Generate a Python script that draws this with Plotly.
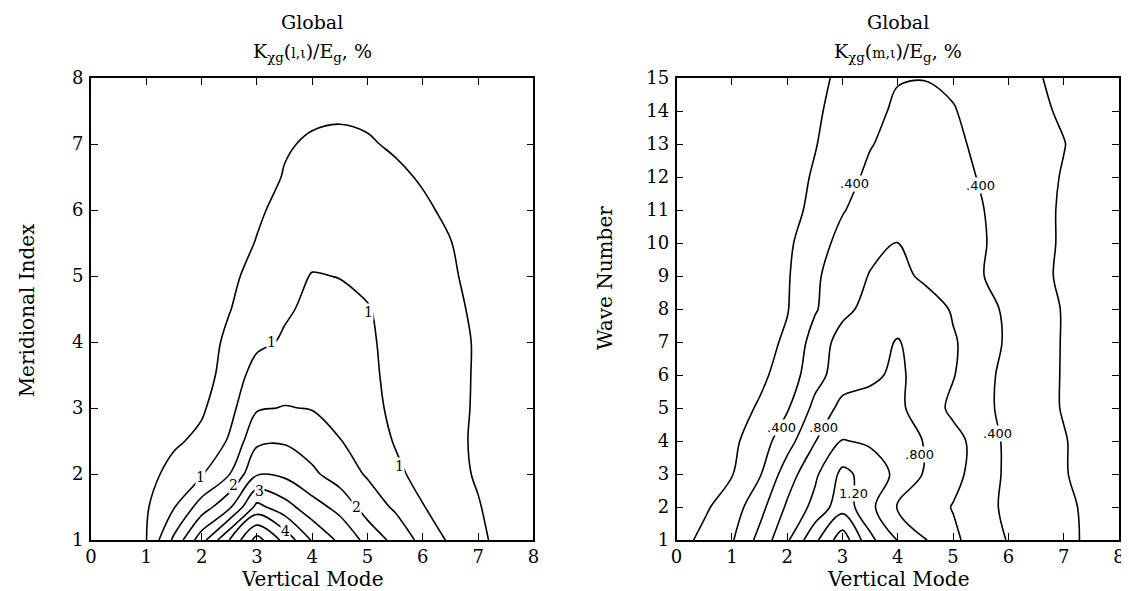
import plotly.graph_objects as go

# ---------------- data ----------------
vertical_mode = [0, 0.5, 1, 1.5, 2, 2.5, 3, 3.5, 4, 4.5, 5, 5.5, 6, 6.5, 7, 7.5, 8]
meridional_index = [1, 1.5, 2, 2.5, 3, 3.5, 4, 4.5, 5, 5.5, 6, 6.5, 7, 7.5, 8]
wave_number = list(range(1, 16))

# K(l,i)/E, %  rows = meridional index, cols = vertical mode
k_meridional = [
    [0.10, 0.20, 0.49, 1.60, 2.80, 4.00, 5.20, 4.35, 3.45, 2.90, 2.35, 1.85, 1.35, 0.92, 0.62, 0.30, 0.15],
    [0.10, 0.20, 0.45, 0.97, 1.73, 2.40, 3.65, 3.20, 2.70, 2.35, 1.77, 1.43, 1.02, 0.78, 0.53, 0.28, 0.13],
    [0.08, 0.15, 0.32, 0.68, 0.95, 1.48, 2.45, 2.40, 2.10, 1.75, 1.45, 1.10, 0.85, 0.65, 0.45, 0.25, 0.12],
    [0.07, 0.13, 0.25, 0.42, 0.62, 1.05, 1.90, 1.95, 1.75, 1.52, 1.25, 0.97, 0.80, 0.62, 0.43, 0.24, 0.11],
    [0.06, 0.11, 0.20, 0.30, 0.43, 0.85, 1.45, 1.52, 1.48, 1.30, 1.12, 0.92, 0.78, 0.62, 0.45, 0.25, 0.11],
    [0.05, 0.10, 0.16, 0.22, 0.30, 0.70, 1.20, 1.25, 1.25, 1.18, 1.08, 0.90, 0.78, 0.64, 0.45, 0.25, 0.10],
    [0.05, 0.09, 0.14, 0.20, 0.28, 0.60, 0.90, 1.05, 1.12, 1.12, 1.05, 0.90, 0.78, 0.65, 0.45, 0.25, 0.10],
    [0.04, 0.08, 0.12, 0.17, 0.24, 0.48, 0.75, 0.95, 1.08, 1.10, 1.02, 0.88, 0.75, 0.60, 0.42, 0.23, 0.10],
    [0.04, 0.07, 0.10, 0.14, 0.20, 0.40, 0.65, 0.85, 1.02, 0.99, 0.92, 0.82, 0.70, 0.55, 0.38, 0.21, 0.09],
    [0.03, 0.06, 0.09, 0.12, 0.17, 0.32, 0.52, 0.72, 0.85, 0.85, 0.80, 0.72, 0.62, 0.51, 0.34, 0.19, 0.08],
    [0.03, 0.05, 0.08, 0.10, 0.14, 0.26, 0.44, 0.62, 0.72, 0.75, 0.72, 0.65, 0.55, 0.44, 0.30, 0.17, 0.07],
    [0.02, 0.04, 0.06, 0.08, 0.11, 0.20, 0.36, 0.52, 0.62, 0.65, 0.63, 0.56, 0.47, 0.38, 0.27, 0.15, 0.06],
    [0.02, 0.03, 0.05, 0.07, 0.09, 0.15, 0.28, 0.47, 0.54, 0.56, 0.53, 0.46, 0.38, 0.30, 0.22, 0.12, 0.05],
    [0.01, 0.02, 0.04, 0.05, 0.07, 0.12, 0.22, 0.36, 0.44, 0.46, 0.44, 0.38, 0.31, 0.25, 0.18, 0.10, 0.04],
    [0.01, 0.02, 0.03, 0.04, 0.05, 0.09, 0.17, 0.28, 0.35, 0.38, 0.36, 0.31, 0.25, 0.20, 0.14, 0.08, 0.03],
]

# K(m,i)/E, %  rows = wave number, cols = vertical mode
k_wave = [
    [0.120, 0.25, 0.380, 0.66, 0.97, 1.35, 1.72, 1.25, 0.99, 0.81, 0.64, 0.50, 0.39, 0.31, 0.24, 0.17, 0.12],
    [0.080, 0.17, 0.300, 0.53, 0.83, 1.06, 1.32, 1.05, 0.79, 0.70, 0.59, 0.47, 0.36, 0.29, 0.23, 0.17, 0.12],
    [0.060, 0.11, 0.190, 0.38, 0.70, 0.96, 1.25, 1.12, 0.95, 0.78, 0.66, 0.51, 0.36, 0.28, 0.21, 0.15, 0.10],
    [0.050, 0.09, 0.160, 0.30, 0.52, 0.79, 1.01, 0.97, 0.88, 0.79, 0.66, 0.53, 0.35, 0.27, 0.21, 0.14, 0.10],
    [0.040, 0.07, 0.120, 0.22, 0.38, 0.65, 0.86, 0.90, 0.84, 0.70, 0.56, 0.46, 0.34, 0.26, 0.19, 0.13, 0.09],
    [0.035, 0.06, 0.100, 0.16, 0.28, 0.53, 0.70, 0.75, 0.85, 0.68, 0.61, 0.47, 0.34, 0.26, 0.19, 0.13, 0.09],
    [0.030, 0.05, 0.080, 0.13, 0.23, 0.48, 0.68, 0.74, 0.81, 0.72, 0.62, 0.50, 0.37, 0.27, 0.19, 0.13, 0.09],
    [0.030, 0.045, 0.070, 0.11, 0.19, 0.38, 0.55, 0.66, 0.72, 0.70, 0.58, 0.48, 0.36, 0.27, 0.19, 0.13, 0.09],
    [0.025, 0.04, 0.060, 0.10, 0.18, 0.37, 0.50, 0.61, 0.66, 0.56, 0.47, 0.41, 0.33, 0.25, 0.17, 0.12, 0.08],
    [0.020, 0.035, 0.055, 0.09, 0.16, 0.33, 0.45, 0.55, 0.605, 0.52, 0.46, 0.42, 0.33, 0.25, 0.18, 0.12, 0.08],
    [0.020, 0.03, 0.050, 0.08, 0.13, 0.25, 0.39, 0.47, 0.52, 0.50, 0.46, 0.41, 0.33, 0.25, 0.18, 0.12, 0.08],
    [0.020, 0.03, 0.045, 0.07, 0.12, 0.22, 0.33, 0.44, 0.50, 0.49, 0.45, 0.39, 0.32, 0.25, 0.19, 0.13, 0.08],
    [0.020, 0.025, 0.040, 0.06, 0.10, 0.19, 0.30, 0.39, 0.46, 0.47, 0.43, 0.37, 0.30, 0.25, 0.205, 0.13, 0.08],
    [0.015, 0.02, 0.035, 0.05, 0.09, 0.17, 0.27, 0.35, 0.43, 0.45, 0.41, 0.34, 0.28, 0.23, 0.18, 0.12, 0.07],
    [0.015, 0.02, 0.030, 0.045, 0.08, 0.15, 0.24, 0.33, 0.39, 0.395, 0.37, 0.30, 0.25, 0.21, 0.17, 0.11, 0.07],
]

left_levels = dict(start=0.5, end=5.0, size=0.5)
right_levels = dict(start=0.2, end=1.6, size=0.2)

# contour labels (text and where they sit on the lines)
left_label_text = ["1", "1", "1", "1", "2", "2", "3", "4"]
left_label_x = [1.98, 3.27, 5.02, 5.58, 2.57, 4.80, 3.05, 3.51]
left_label_y = [1.95, 4.00, 4.46, 2.12, 1.83, 1.50, 1.74, 1.13]

right_label_text = [".400", ".800", ".800", ".400", "1.20", ".400", ".400"]
right_label_x = [1.89, 2.65, 4.40, 5.80, 3.20, 3.22, 5.50]
right_label_y = [4.40, 4.40, 3.60, 4.24, 2.42, 11.80, 11.75]

x_ticks = list(range(0, 9))
left_y_ticks = list(range(1, 9))
right_y_ticks = list(range(1, 16))

# ---------------- figure ----------------
SERIF = "DejaVu Serif"
LBL = "DejaVu Sans"
black = [[0, "black"], [1, "black"]]

fig = go.Figure()
fig.add_trace(go.Contour(
    x=vertical_mode, y=meridional_index, z=k_meridional,
    contours=dict(coloring="lines", showlabels=False, **left_levels),
    line=dict(width=1.6, smoothing=1.0), colorscale=black, showscale=False,
    hoverinfo="skip", xaxis="x", yaxis="y"))
fig.add_trace(go.Contour(
    x=vertical_mode, y=wave_number, z=k_wave,
    contours=dict(coloring="lines", showlabels=False, **right_levels),
    line=dict(width=1.6, smoothing=1.0), colorscale=black, showscale=False,
    hoverinfo="skip", xaxis="x2", yaxis="y2"))

axis_style = dict(showline=True, linecolor="black", linewidth=1.7, mirror="ticks",
                  ticks="inside", ticklen=7, tickwidth=1.3, tickcolor="black",
                  showgrid=False, zeroline=False,
                  tickfont=dict(family=SERIF, size=18, color="black"))

W, H = 1129, 591
ML, MR, MT, MB = 83, 12, 70, 59
PW = W - ML - MR
PH = H - MT - MB
left_dom = [0, (528 - ML) / PW]
right_dom = [(672 - ML) / PW, 1]

fig.update_layout(
    width=W, height=H,
    margin=dict(l=ML, r=MR, t=MT, b=MB),
    paper_bgcolor="white", plot_bgcolor="white",
    showlegend=False,
    xaxis=dict(domain=left_dom, range=[0, 8], tickvals=x_ticks, anchor="y", **axis_style),
    yaxis=dict(domain=[0, 1], range=[1, 8], tickvals=left_y_ticks, anchor="x",
               ticklabelstandoff=2, **axis_style),
    xaxis2=dict(domain=right_dom, range=[0, 8], tickvals=x_ticks, anchor="y2", **axis_style),
    yaxis2=dict(domain=[0, 1], range=[1, 15], tickvals=right_y_ticks, anchor="x2",
                ticklabelstandoff=2, **axis_style),
)

def py(pix):
    return (H - MB - pix) / PH

def px(pix):
    return (pix - ML) / PW

ann = []
lc = (left_dom[0] + left_dom[1]) / 2
rc = (right_dom[0] + right_dom[1]) / 2
tfont = dict(family=SERIF, size=19, color="black")
afont = dict(family=SERIF, size=20, color="black")
for cx, sub in [(lc, "l,ι"), (rc, "m,ι")]:
    ann.append(dict(x=cx, y=py(14), xref="paper", yref="paper", text="Global",
                    showarrow=False, font=tfont, xanchor="center", yanchor="middle"))
    ann.append(dict(x=cx, y=py(44), xref="paper", yref="paper",
                    text="K<sub>χg</sub>(<span style='font-size:14px'>" + sub + "</span>)/E<sub>g</sub>, %",
                    showarrow=False, font=tfont, xanchor="center", yanchor="middle"))
    ann.append(dict(x=cx, y=py(571), xref="paper", yref="paper", text="Vertical Mode",
                    showarrow=False, font=afont, xanchor="center", yanchor="middle"))
ann.append(dict(x=px(19), y=py(302), xref="paper", yref="paper", text="Meridional Index",
                textangle=-90, showarrow=False, font=afont, xanchor="center", yanchor="middle"))
ann.append(dict(x=px(600), y=py(270), xref="paper", yref="paper", text="Wave Number",
                textangle=-90, showarrow=False, font=afont, xanchor="center", yanchor="middle"))

for t, xx, yy in zip(left_label_text, left_label_x, left_label_y):
    ann.append(dict(x=xx, y=yy, xref="x", yref="y", text=t, showarrow=False,
                    font=dict(family=SERIF, size=14, color="black"),
                    bgcolor="white", borderpad=0, xanchor="center", yanchor="middle"))
for t, xx, yy in zip(right_label_text, right_label_x, right_label_y):
    ann.append(dict(x=xx, y=yy, xref="x2", yref="y2", text=t, showarrow=False,
                    font=dict(family=LBL, size=13, color="black"),
                    bgcolor="white", borderpad=0, xanchor="center", yanchor="middle"))

fig.update_layout(annotations=ann)
fig.write_html("out.html")
